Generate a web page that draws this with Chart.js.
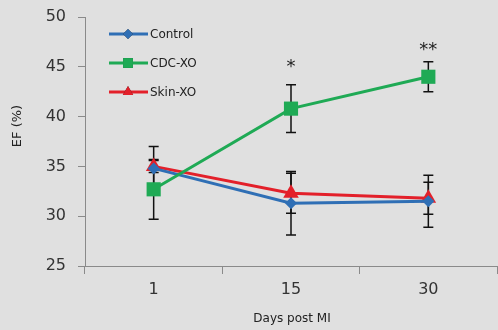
<!DOCTYPE html>
<html>
<head>
<meta charset="utf-8">
<script src="https://cdn.jsdelivr.net/npm/chart.js@4/dist/chart.umd.min.js"></script>
<style>
html,body{margin:0;padding:0;background:#e0e0e0;}
#wrap{width:498px;height:330px;position:relative;}
</style>
</head>
<body>
<div id="wrap"><canvas id="c" width="498" height="330"></canvas></div>
<script>
const categories = ['1', '15', '30'];
const seriesNames = ['Control', 'CDC-XO', 'Skin-XO'];
const controlValues = [34.8, 31.3, 31.5];
const controlErrors = [2.2, 3.2, 2.6];
const cdcValues = [32.7, 40.8, 44.0];
const cdcErrors = [3.0, 2.4, 1.5];
const skinValues = [35.0, 32.3, 31.8];
const skinErrors = [0.6, 2.0, 1.6];
const significance = ['', '*', '**'];
const yTicks = [25, 30, 35, 40, 45, 50];

const FONT = '"DejaVu Sans", sans-serif';
const colors = ['#2f6fb5', '#1faa55', '#e3202a'];
const styles = ['rectRot', 'rect', 'triangle'];
const radii = [6, 10, 9];
const starGap = [0, 17, 11];

const errorBars = {
  id: 'errorBars',
  beforeDatasetsDraw(chart) {
    const ctx = chart.ctx, x = chart.scales.x, y = chart.scales.y;
    const sets = [[controlValues, controlErrors], [cdcValues, cdcErrors], [skinValues, skinErrors]];
    ctx.save();
    ctx.strokeStyle = '#111';
    ctx.lineWidth = 1.5;
    sets.forEach(([v, e]) => {
      v.forEach((val, i) => {
        const px = x.getPixelForValue(i);
        const top = y.getPixelForValue(val + e[i]);
        const bot = y.getPixelForValue(val - e[i]);
        ctx.beginPath();
        ctx.moveTo(px, top); ctx.lineTo(px, bot);
        ctx.moveTo(px - 5, top); ctx.lineTo(px + 5, top);
        ctx.moveTo(px - 5, bot); ctx.lineTo(px + 5, bot);
        ctx.stroke();
      });
    });
    ctx.restore();
  },
  afterDraw(chart) {
    const ctx = chart.ctx, x = chart.scales.x, y = chart.scales.y;
    ctx.save();
    ctx.fillStyle = '#222';
    ctx.font = '18px ' + FONT;
    ctx.textAlign = 'center';
    ctx.textBaseline = 'middle';
    significance.forEach((s, i) => {
      if (!s) return;
      const top = y.getPixelForValue(cdcValues[i] + cdcErrors[i]);
      ctx.fillText(s, x.getPixelForValue(i), top - starGap[i]);
    });
    ctx.font = '12px ' + FONT;
    ctx.textAlign = 'left';
    seriesNames.forEach((name, i) => {
      const ly = 34 + i * 29;
      ctx.strokeStyle = colors[i];
      ctx.lineWidth = 3;
      ctx.beginPath(); ctx.moveTo(109, ly); ctx.lineTo(148, ly); ctx.stroke();
      Chart.helpers.drawPoint(ctx, {pointStyle: styles[i], radius: [5, 7, 6][i], rotation: 0, borderWidth: 0}, 128, ly);
      ctx.fillStyle = colors[i];
      ctx.fill();
      ctx.fillStyle = '#222';
      ctx.fillText(name, 150, ly + 1);
    });
    ctx.fillStyle = '#222';
    ctx.font = '12px ' + FONT;
    ctx.textAlign = 'center';
    ctx.fillText('Days post MI', 292, 319);
    ctx.translate(18, 126);
    ctx.rotate(-Math.PI / 2);
    ctx.font = '13px ' + FONT;
    ctx.fillText('EF (%)', 0, 0);
    ctx.restore();
  }
};

const mk = (label, data, i) => ({
  label, data,
  borderColor: colors[i], backgroundColor: colors[i],
  borderWidth: 3, pointStyle: styles[i], pointRadius: radii[i],
  pointBorderWidth: 0, tension: 0
});

new Chart(document.getElementById('c'), {
  type: 'line',
  data: {
    labels: categories,
    datasets: [
      mk(seriesNames[1], cdcValues, 1),
      mk(seriesNames[0], controlValues, 0),
      mk(seriesNames[2], skinValues, 2)
    ]
  },
  options: {
    responsive: false,
    animation: false,
    events: [],
    layout: {autoPadding: false, padding: {top: 17, right: 1, left: 0, bottom: 0}},
    plugins: {legend: {display: false}, tooltip: {enabled: false}},
    scales: {
      x: {
        offset: true,
        grid: {display: true, drawOnChartArea: false, drawTicks: true, tickLength: 8, color: '#8a8a8a', offset: true},
        border: {color: '#8a8a8a', width: 1},
        ticks: {font: {family: FONT, size: 16}, color: '#333', padding: 6, maxRotation: 0},
        afterFit(s) { s.height = 64; s.paddingLeft = 0; s.paddingRight = 0; }
      },
      y: {
        min: 25, max: 50,
        afterBuildTicks(s) { s.ticks = yTicks.map(v => ({value: v})); },
        grid: {display: true, drawOnChartArea: false, drawTicks: true, tickLength: 7, color: '#8a8a8a'},
        border: {color: '#8a8a8a', width: 1},
        ticks: {font: {family: FONT, size: 16}, color: '#333', padding: 12},
        afterFit(s) { s.width = 85; s.paddingTop = 0; s.paddingBottom = 0; }
      }
    }
  },
  plugins: [errorBars]
});
</script>
</body>
</html>
